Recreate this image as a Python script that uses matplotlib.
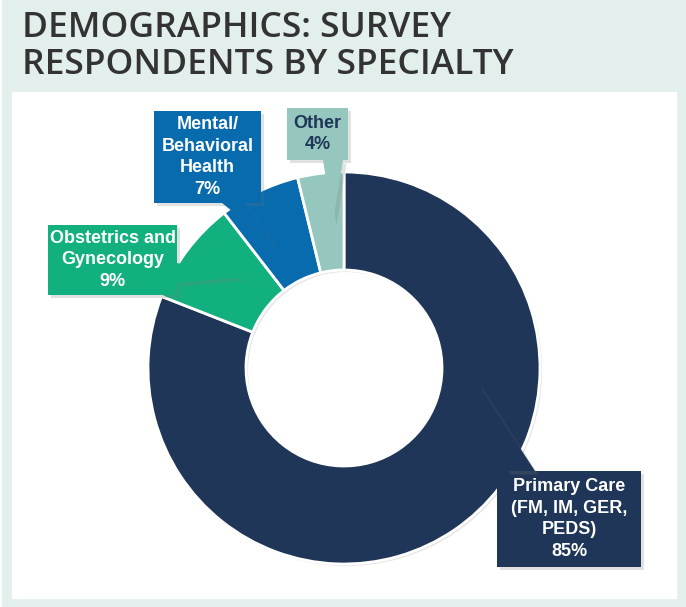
import matplotlib.pyplot as plt
import matplotlib.patheffects as pe
from matplotlib.patches import Rectangle, Polygon

# dane
specjalnosci = ["Primary Care\n(FM, IM, GER,\nPEDS)", "Obstetrics and\nGynecology",
                "Mental/\nBehavioral\nHealth", "Other"]
procenty = [85, 9, 7, 4]
kolory = ["#1f3658", "#13b07f", "#086bad", "#95c7be"]
kolory_tekstu = ["white", "white", "white", "#1f3658"]

W, H = 686, 607
rysunek = plt.figure(figsize=(W / 100, H / 100), dpi=100, facecolor="white")
os = rysunek.add_axes([0, 0, 1, 1])

# tlo
os.add_patch(Rectangle((2, 0), 683, 607, color="#e2efec", zorder=0))
os.add_patch(Rectangle((12, 9), 664, 506, color="white", zorder=0.5))

cien = [pe.SimplePatchShadow(offset=(1.5, -1.5), shadow_rgbFace="#999999", alpha=0.25), pe.Normal()]

klinki, _ = os.pie(procenty, colors=kolory, startangle=90, counterclock=False,
                   center=(344, 239), radius=196,
                   wedgeprops=dict(width=98, edgecolor="white", linewidth=2))
for k in klinki:
    k.set_zorder(2)
    k.set_path_effects(cien)

# ramki z etykietami: (x0, y0, szer, wys), trojkat wskaznika
ramki = [(497, 40, 144, 96), (48, 312, 129, 70), (154, 404, 107, 92), (287, 447, 61, 52)]
wskazniki = [
    [(507, 136), (535, 136), (477, 225)],
    [(177, 344), (177, 324), (243, 330)],
    [(222, 404), (245, 404), (273, 364)],
    [(323, 447), (343, 447), (333, 385)],
]
cien_ramki = [pe.SimplePatchShadow(offset=(2.5, -2.5), shadow_rgbFace="#777777", alpha=0.22), pe.Normal()]

for (x0, y0, w, h), trojkat, nazwa, p, kol, kt in zip(ramki, wskazniki, specjalnosci,
                                                        procenty, kolory, kolory_tekstu):
    prost = Rectangle((x0, y0), w, h, facecolor=kol, edgecolor="none", zorder=4)
    wsk = Polygon(trojkat, closed=True, facecolor=kol, edgecolor="none", zorder=4)
    prost.set_path_effects(cien_ramki)
    wsk.set_path_effects(cien_ramki)
    os.add_patch(prost)
    os.add_patch(wsk)
    os.text(x0 + w / 2, y0 + h / 2, f"{nazwa}\n{p}%", ha="center", va="center",
            color=kt, fontsize=13, fontweight="bold", family="Liberation Sans",
            linespacing=1.38, zorder=6)

os.text(22, H - 37, "DEMOGRAPHICS: SURVEY", ha="left", va="baseline",
        fontsize=25.5, fontweight="semibold", family="Open Sans", color="#333333")
os.text(22, H - 74, "RESPONDENTS BY SPECIALTY", ha="left", va="baseline",
        fontsize=25.5, fontweight="semibold", family="Open Sans", color="#333333")

os.set_xlim(0, W)
os.set_ylim(0, H)
os.set_aspect("auto")
os.axis("off")

rysunek.savefig("out.png", dpi=100, facecolor="white")
